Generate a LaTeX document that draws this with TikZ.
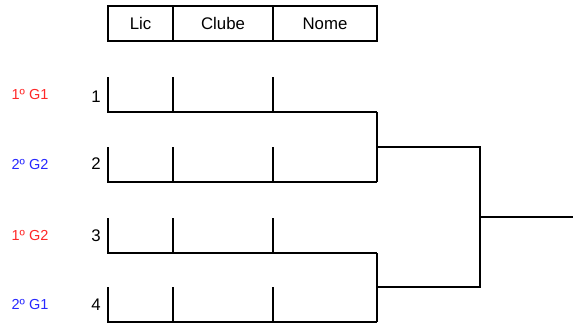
\documentclass[tikz,border=0pt]{standalone}
\usepackage{fontspec}
\setmainfont{Liberation Sans}
\definecolor{seedred}{RGB}{255,40,40}
\definecolor{seedblue}{RGB}{40,40,255}
\begin{document}
\begin{tikzpicture}[x=1pt,y=-1pt,line width=2pt,
  hdr/.style={draw,rectangle,minimum height=35pt,inner sep=0pt,font=\fontsize{16.8}{20}\selectfont},
  num/.style={font=\fontsize{16.8}{20}\selectfont,inner sep=0pt},
  seed/.style={font=\fontsize{14.5}{17}\selectfont,inner sep=0pt}]
\useasboundingbox (0,0) rectangle (573,324);
% header
\node[hdr,minimum width=65pt] (lic) at (140.5,23.5) {Lic};
\node[hdr,minimum width=100pt] (clube) at (223,23.5) {Clube};
\node[hdr,minimum width=104pt] (nome) at (325,23.5) {Nome};
% rows
\foreach \i/\yb in {1/112,2/182,3/253,4/322}{
  \coordinate (r\i L) at (108,\yb);
  \coordinate (r\i R) at (377,\yb);
  \draw (108,\yb-35) -- (r\i L) -- (r\i R);
  \draw (173,\yb-35) -- (173,\yb);
  \draw (273,\yb-35) -- (273,\yb);
}
% numbers
\node[num] (n1) at (96,97) {1};
\node[num] (n2) at (96,164) {2};
\node[num] (n3) at (96,236) {3};
\node[num] (n4) at (96,305) {4};
% seeds
\node[seed,text=seedred] (s1) at (30,95) {1º G1};
\node[seed,text=seedblue] (s2) at (30,164) {2º G2};
\node[seed,text=seedred] (s3) at (30,235) {1º G2};
\node[seed,text=seedblue] (s4) at (30,304) {2º G1};
% brackets
\coordinate (m1) at (377,147);
\coordinate (m2) at (377,287);
\coordinate (f1) at (480,147);
\coordinate (f2) at (480,287);
\coordinate (fm) at (480,217);
\coordinate (out) at (573,217);
\draw (r1R) -- (r2R);
\draw (r3R) -- (r4R);
\draw (m1) -- (f1) -- (f2) -- (m2);
\draw (fm) -- (out);
\end{tikzpicture}
\end{document}
